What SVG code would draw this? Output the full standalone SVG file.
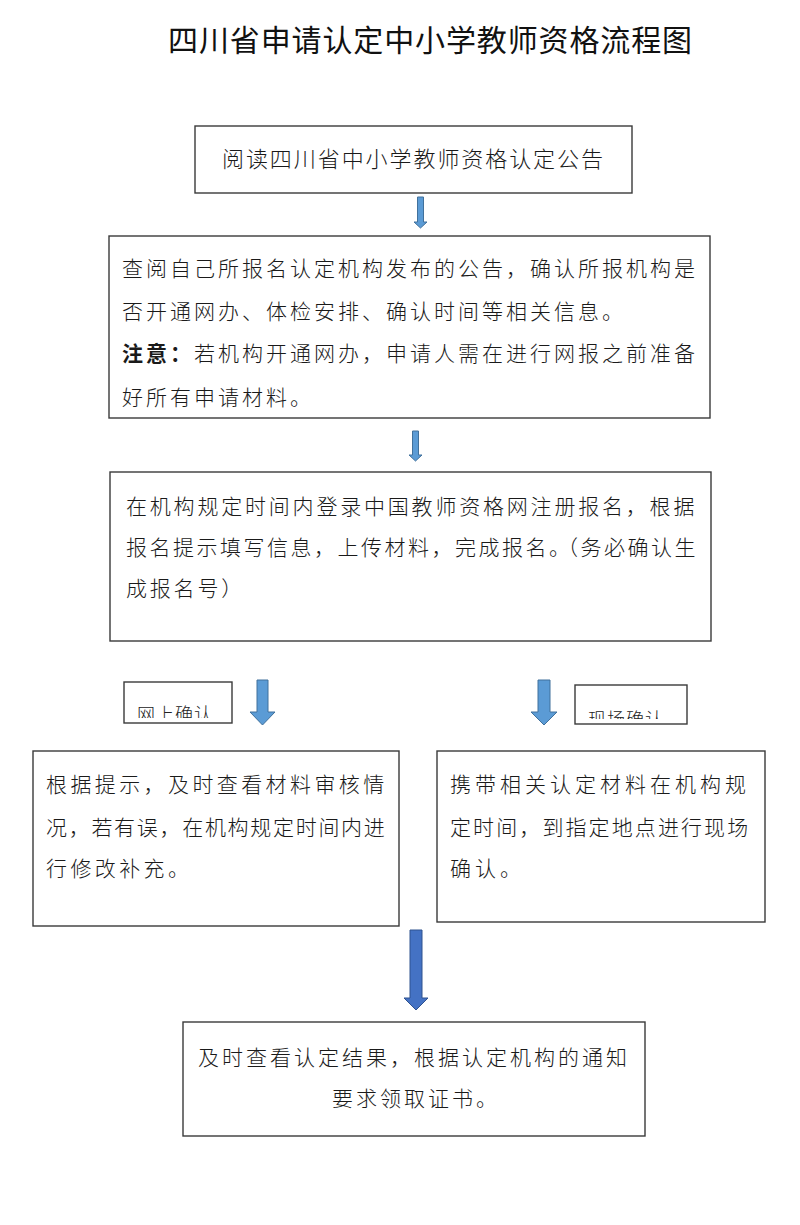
<svg xmlns="http://www.w3.org/2000/svg" width="800" height="1225" viewBox="0 0 800 1225">
<style>
.box{fill:#fff;stroke:#3a3a3a;stroke-width:1.4}
.t{font-family:"Noto Sans CJK SC","Noto Sans",sans-serif;font-size:21px;fill:#1a1a1a;font-weight:300}
.lbl{font-family:"Noto Sans CJK SC","Noto Sans",sans-serif;font-size:18px;fill:#222;font-weight:300}
.title{font-family:"Noto Sans CJK SC","Noto Sans",sans-serif;font-size:30px;fill:#111;font-weight:400}
.arr{fill:#5b9bd5;stroke:#41719c;stroke-width:1}
.arrB{fill:#4472c4;stroke:#2f528f;stroke-width:1}
</style>
<defs>
<clipPath id="clipL"><rect x="124" y="682" width="108" height="36"/></clipPath>
<clipPath id="clipR"><rect x="575" y="685" width="112" height="34"/></clipPath>
</defs>
<rect width="800" height="1225" fill="#fff"/>
<text class="title" x="168" y="51" textLength="524" lengthAdjust="spacing">四川省申请认定中小学教师资格流程图</text>

<g id="connectors">
<polygon class="arr" points="417.5,197 423.5,197 423.5,222 427,222 420.5,228 414,222 417.5,222"/>
<polygon class="arr" points="412.5,431 418.5,431 418.5,455 422,455 415.5,461 409,455 412.5,455"/>
<polygon class="arr" points="257,680 268,680 268,712 275,712 262.5,725 250,712 257,712"/>
<polygon class="arr" points="538,680 550,680 550,712 557,712 544,725 531,712 538,712"/>
<polygon class="arrB" points="410,930 422,930 422,998 428,998 416,1010 404,998 410,998"/>
</g>

<g id="n1">
<rect class="box" x="195" y="126" width="437" height="67"/>
<text class="t" x="222" y="167" style="font-size:22px" textLength="381" lengthAdjust="spacing">阅读四川省中小学教师资格认定公告</text>
</g>

<g id="n2">
<rect class="box" x="109" y="236" width="601" height="182"/>
<text class="t" x="122" y="276" letter-spacing="3">查阅自己所报名认定机构发布的公告，确认所报机构是</text>
<text class="t" x="122" y="319" letter-spacing="3">否开通网办、体检安排、确认时间等相关信息。</text>
<text class="t" x="122" y="361" letter-spacing="3"><tspan font-weight="700">注意：</tspan>若机构开通网办，申请人需在进行网报之前准备</text>
<text class="t" x="122" y="405" letter-spacing="3">好所有申请材料。</text>
</g>

<g id="n3">
<rect class="box" x="110" y="472" width="601" height="169"/>
<text class="t" x="126" y="514" letter-spacing="2.8">在机构规定时间内登录中国教师资格网注册报名，根据</text>
<text class="t" x="126" y="555" letter-spacing="2.5">报名提示填写信息，上传材料，完成报名。<tspan dx="-5">（务必确认生</tspan></text>
<text class="t" x="126" y="596" letter-spacing="2.8">成报名号）</text>
</g>

<g id="lblOnline">
<rect class="box" x="124" y="682" width="108" height="41"/>
<text class="lbl" x="137" y="721" letter-spacing="1" clip-path="url(#clipL)">网上确认</text>
</g>

<g id="lblSite">
<rect class="box" x="575" y="685" width="112" height="39"/>
<text class="lbl" x="588" y="726" letter-spacing="1" clip-path="url(#clipR)">现场确认</text>
</g>

<g id="n4">
<rect class="box" x="33" y="751" width="366" height="175"/>
<text class="t" x="46" y="792" letter-spacing="3.4">根据提示，及时查看材料审核情</text>
<text class="t" x="46" y="835" letter-spacing="1.7">况，若有误，在机构规定时间内进</text>
<text class="t" x="46" y="876" letter-spacing="3.4">行修改补充。</text>
</g>

<g id="n5">
<rect class="box" x="437" y="751" width="328" height="171"/>
<text class="t" x="450" y="792" letter-spacing="4">携带相关认定材料在机构规</text>
<text class="t" x="450" y="835" letter-spacing="2.1">定时间，到指定地点进行现场</text>
<text class="t" x="450" y="876" letter-spacing="4">确认。</text>
</g>

<g id="n6">
<rect class="box" x="183" y="1022" width="462" height="114"/>
<text class="t" x="198" y="1065" letter-spacing="3">及时查看认定结果，根据认定机构的通知</text>
<text class="t" x="332" y="1106" letter-spacing="3">要求领取证书。</text>
</g>
</svg>
